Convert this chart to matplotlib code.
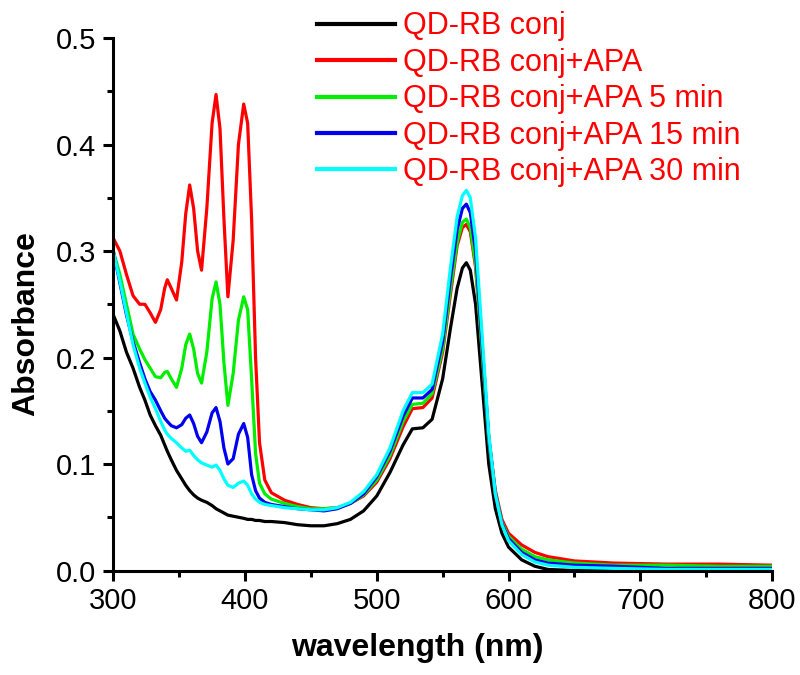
import matplotlib
matplotlib.use("Agg")
import matplotlib.pyplot as plt
from matplotlib.ticker import MultipleLocator

plt.rcParams['font.family'] = ['Liberation Sans', 'DejaVu Sans']

wavelength = [300, 305, 310, 315, 320, 324, 328, 332, 336, 339,
              341, 344, 348, 352, 355, 358, 361, 364, 367, 371,
              375, 378, 381, 384, 387, 391, 395, 399, 402, 405,
              408, 411, 415, 420, 430, 440, 450, 460, 470, 480,
              490, 500, 510, 520, 527, 535, 542, 550, 556, 561,
              565, 568, 571, 575, 580, 585, 590, 595, 600, 610,
              620, 630, 650, 680, 720, 760, 800]

qdrb_conj = [0.240, 0.225, 0.205, 0.190, 0.172, 0.160, 0.146, 0.136, 0.127, 0.118,
             0.112, 0.104, 0.094, 0.086, 0.080, 0.075, 0.071, 0.068, 0.066, 0.064,
             0.061, 0.058, 0.056, 0.054, 0.052, 0.051, 0.050, 0.049, 0.048, 0.048,
             0.047, 0.047, 0.046, 0.046, 0.045, 0.043, 0.042, 0.042, 0.044, 0.048,
             0.056, 0.070, 0.092, 0.118, 0.133, 0.134, 0.142, 0.180, 0.228, 0.265,
             0.284, 0.289, 0.282, 0.250, 0.175, 0.100, 0.058, 0.035, 0.022, 0.010,
             0.004, 0.001, 0.000, 0.000, 0.000, 0.000, 0.000]

qdrb_apa = [0.312, 0.300, 0.278, 0.258, 0.250, 0.250, 0.242, 0.233, 0.245, 0.265,
            0.273, 0.265, 0.254, 0.290, 0.335, 0.362, 0.340, 0.300, 0.282, 0.340,
            0.420, 0.447, 0.415, 0.330, 0.257, 0.310, 0.400, 0.438, 0.420, 0.330,
            0.200, 0.120, 0.085, 0.073, 0.066, 0.062, 0.059, 0.058, 0.059, 0.063,
            0.070, 0.083, 0.105, 0.135, 0.152, 0.153, 0.162, 0.205, 0.260, 0.305,
            0.322, 0.325, 0.318, 0.285, 0.205, 0.125, 0.075, 0.048, 0.035, 0.024,
            0.017, 0.013, 0.009, 0.007, 0.006, 0.006, 0.005]

qdrb_apa_5 = [0.300, 0.278, 0.250, 0.222, 0.208, 0.198, 0.190, 0.182, 0.181, 0.186,
              0.187, 0.180, 0.172, 0.190, 0.212, 0.222, 0.208, 0.185, 0.176, 0.205,
              0.255, 0.271, 0.250, 0.195, 0.155, 0.185, 0.235, 0.257, 0.245, 0.180,
              0.110, 0.082, 0.072, 0.067, 0.063, 0.060, 0.058, 0.058, 0.059, 0.063,
              0.071, 0.085, 0.108, 0.140, 0.156, 0.157, 0.166, 0.208, 0.265, 0.308,
              0.327, 0.330, 0.322, 0.288, 0.205, 0.122, 0.072, 0.045, 0.032, 0.020,
              0.013, 0.010, 0.007, 0.005, 0.005, 0.004, 0.004]

qdrb_apa_15 = [0.300, 0.270, 0.240, 0.215, 0.195, 0.180, 0.168, 0.160, 0.150, 0.143,
               0.140, 0.136, 0.134, 0.137, 0.143, 0.146, 0.138, 0.126, 0.120, 0.130,
               0.148, 0.153, 0.140, 0.115, 0.100, 0.105, 0.128, 0.138, 0.125, 0.090,
               0.075, 0.068, 0.064, 0.062, 0.060, 0.058, 0.057, 0.056, 0.058, 0.063,
               0.072, 0.088, 0.112, 0.145, 0.162, 0.162, 0.170, 0.215, 0.275, 0.320,
               0.340, 0.344, 0.336, 0.300, 0.212, 0.125, 0.072, 0.044, 0.030, 0.017,
               0.010, 0.007, 0.005, 0.004, 0.002, 0.002, 0.002]

qdrb_apa_30 = [0.300, 0.272, 0.242, 0.212, 0.190, 0.176, 0.163, 0.152, 0.140, 0.132,
               0.128, 0.124, 0.120, 0.115, 0.112, 0.113, 0.108, 0.104, 0.101, 0.099,
               0.097, 0.099, 0.094, 0.086, 0.080, 0.078, 0.082, 0.084, 0.080, 0.072,
               0.067, 0.064, 0.062, 0.061, 0.059, 0.058, 0.057, 0.057, 0.059, 0.064,
               0.074, 0.090, 0.115, 0.150, 0.167, 0.167, 0.175, 0.222, 0.285, 0.332,
               0.352, 0.357, 0.350, 0.312, 0.220, 0.128, 0.072, 0.043, 0.028, 0.015,
               0.008, 0.005, 0.003, 0.002, 0.001, 0.001, 0.001]

series = [qdrb_conj, qdrb_apa, qdrb_apa_5, qdrb_apa_15, qdrb_apa_30]
labels = ["QD-RB conj", "QD-RB conj+APA", "QD-RB conj+APA 5 min",
          "QD-RB conj+APA 15 min", "QD-RB conj+APA 30 min"]
colors = ["#000000", "#ff0000", "#00ee00", "#0000ee", "#00ffff"]

fig = plt.figure(figsize=(8, 6.75), dpi=100)
ax = fig.add_axes([0.1416, 0.1548, 0.8234, 0.7889])

for y, lab, c in zip(series, labels, colors):
    ax.plot(wavelength, y, color=c, lw=2.3, label=lab, solid_joinstyle='round')

ax.set_xlim(300, 800)
ax.set_ylim(0, 0.5)
ax.xaxis.set_major_locator(MultipleLocator(100))
ax.xaxis.set_minor_locator(MultipleLocator(50))
ax.yaxis.set_major_locator(MultipleLocator(0.1))
ax.yaxis.set_minor_locator(MultipleLocator(0.05))
ax.yaxis.set_major_formatter(matplotlib.ticker.FormatStrFormatter('%.1f'))

for s in ['top', 'right']:
    ax.spines[s].set_visible(False)
for s in ['left', 'bottom']:
    ax.spines[s].set_linewidth(2.2)

ax.tick_params(which='major', direction='out', length=7, width=2.2, labelsize=21, pad=5)
ax.tick_params(which='minor', direction='out', length=4, width=2.2)

ax.set_xlabel("wavelength (nm)", fontsize=23, fontweight='bold')
ax.set_ylabel("Absorbance", fontsize=23, fontweight='bold')
ax.xaxis.set_label_coords(0.461, -0.118)
ax.yaxis.set_label_coords(-0.110, 0.463)

leg = ax.legend(loc='upper left', bbox_to_anchor=(0.396, 0.983),
                bbox_transform=fig.transFigure, frameon=False, fontsize=22,
                handlelength=2.55, handletextpad=0.27, labelspacing=0.21,
                borderpad=0, borderaxespad=0)
for t in leg.get_texts():
    t.set_color('#ff0000')
for l in leg.get_lines():
    l.set_linewidth(3)

fig.savefig("out.png", dpi=100)
